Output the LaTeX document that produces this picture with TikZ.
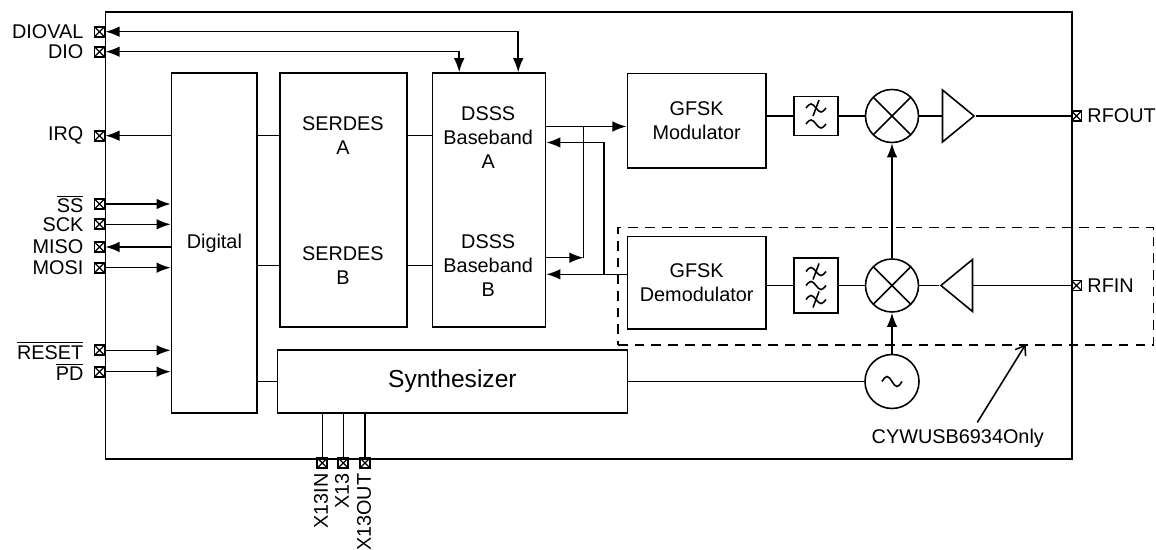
\documentclass[tikz,border=0pt]{standalone}
\usepackage{amsmath}
\usepackage{fontspec}
\setmainfont{Liberation Sans}
\usetikzlibrary{arrows.meta}
\usetikzlibrary{shapes}
\newlength{\px}
\setlength{\px}{0.02cm}

\begin{document}
\begin{tikzpicture}[x = 1\px, y = -1\px, line width = 0.9pt, font = \fontsize{11.3}{13.6}\selectfont]
\tikzstyle{BoxStyle}=[draw, rectangle, anchor = north west, inner sep = 0pt, align = center]
\tikzstyle{FilterStyle}=[draw, rectangle, minimum width = 44\px, inner sep = 0pt]
\tikzstyle{MixerStyle}=[draw, circle, minimum size = 53\px, inner sep = 0pt,
                        path picture = {\draw (path picture bounding box.north west) -- (path picture bounding box.south east)
                                              (path picture bounding box.north east) -- (path picture bounding box.south west);}]
\tikzstyle{AmpStyle}=[draw, isosceles triangle, isosceles triangle stretches,
                      minimum width = 52\px, minimum height = 31.6\px, inner sep = 0pt, anchor = lower side]
\tikzstyle{PinStyle}=[draw, rectangle, minimum size = 10\px, inner sep = 0pt, line width = 1.1pt,
                      path picture = {\draw[line width = 0.7pt] (path picture bounding box.north west) -- (path picture bounding box.south east)
                                              (path picture bounding box.north east) -- (path picture bounding box.south west);}]
\tikzstyle{ArrowStyle}=[-{Latex[length = 8pt, width = 6pt]}]
\tikzstyle{BothStyle}=[{Latex[length = 8pt, width = 6pt]}-{Latex[length = 8pt, width = 6pt]}]
\useasboundingbox (0, 0) rectangle (1156, 550);
\node[BoxStyle, minimum width = 966.5\px, minimum height = 447.3\px] (Chip) at (104.5, 11) {};
\node[BoxStyle, minimum width = 85.7\px, minimum height = 340\px] (Dig) at (170.7, 72.3) {Digital};
\node[BoxStyle, minimum width = 127\px, minimum height = 253.7\px] (Ser) at (279.4, 72.3) {};
\node[align = center] (SerA) at (342.9, 135.7) {SERDES\\A};
\node[align = center] (SerB) at (342.9, 265.7) {SERDES\\B};
\node[BoxStyle, minimum width = 113\px, minimum height = 253.7\px] (Dsss) at (431.7, 72.3) {};
\node[align = center] (DsA) at (488.2, 137.7) {DSSS\\Baseband\\A};
\node[align = center] (DsB) at (488.2, 265.7) {DSSS\\Baseband\\B};
\node[BoxStyle, minimum width = 138.8\px, minimum height = 94.6\px] (Mod) at (626.5, 72.7) {GFSK\\Modulator};
\node[BoxStyle, minimum width = 138.8\px, minimum height = 92.6\px] (Demod) at (626.5, 235.7) {GFSK\\Demodulator};
\node[BoxStyle, minimum width = 350.2\px, minimum height = 63.2\px, font = \fontsize{14}{16}\selectfont] (Syn) at (276.5, 349.2) {Synthesizer};
\node[BoxStyle, dash pattern = on 5.5pt off 4pt, minimum width = 535.4\px, minimum height = 117.6\px] (Opt) at (617.3, 226.7) {};
\node[FilterStyle, minimum height = 39.3\px] (Flt1) at (816, 116) {};
\node[FilterStyle, minimum height = 55\px] (Flt2) at (816, 285.5) {};
\node[MixerStyle] (Mix1) at (892, 116) {};
\node[MixerStyle] (Mix2) at (892, 285.5) {};
\node[draw, circle, minimum size = 54\px, inner sep = 0pt] (Osc) at (892, 381.5) {};
\node[AmpStyle] (Amp1) at (941.7, 116) {};
\node[AmpStyle, shape border rotate = 180] (Amp2) at (973.3, 285.5) {};
\draw (Flt1.center) ++(-10, -8) sin ++(5, -4) cos ++(5, 4) sin ++(5, 4) cos ++(5, -4);
\draw (Flt1.center) ++(-3, 0) -- ++(6, -16);
\draw (Flt1.center) ++(-10, 8) sin ++(5, -4) cos ++(5, 4) sin ++(5, 4) cos ++(5, -4);
\draw (Flt2.center) ++(-10, -14) sin ++(5, -4) cos ++(5, 4) sin ++(5, 4) cos ++(5, -4);
\draw (Flt2.center) ++(-3, -6) -- ++(6, -16);
\draw (Flt2.center) ++(-10, 0) sin ++(5, -4) cos ++(5, 4) sin ++(5, 4) cos ++(5, -4);
\draw (Flt2.center) ++(-10, 14) sin ++(5, -4) cos ++(5, 4) sin ++(5, 4) cos ++(5, -4);
\draw (Flt2.center) ++(-3, 22) -- ++(6, -16);
\draw (Osc.center) ++(-10, 0) sin ++(5, -5) cos ++(5, 5) sin ++(5, 5) cos ++(5, -5);
\node[PinStyle] (pDioval) at (99.5, 31.7) {};
\node[PinStyle] (pDio) at (99.5, 51.7) {};
\node[PinStyle] (pIrq) at (99.5, 135.7) {};
\node[PinStyle] (pSs) at (99.5, 204) {};
\node[PinStyle] (pSck) at (99.5, 224.3) {};
\node[PinStyle] (pMiso) at (99.5, 247) {};
\node[PinStyle] (pMosi) at (99.5, 267.7) {};
\node[PinStyle] (pReset) at (99.5, 350.3) {};
\node[PinStyle] (pPd) at (99.5, 371.7) {};
\node[PinStyle] (pRfout) at (1076.5, 116) {};
\node[PinStyle] (pRfin) at (1076.5, 285.5) {};
\node[PinStyle] (pXin) at (322.3, 463) {};
\node[PinStyle] (pX) at (343.3, 463) {};
\node[PinStyle] (pXout) at (365, 463) {};
\node[anchor = east] (tDioval) at (90, 31.7) {DIOVAL};
\node[anchor = east] (tDio) at (90, 51.7) {DIO};
\node[anchor = east] (tIrq) at (90, 135.7) {IRQ};
\node[anchor = east] (tSs) at (90, 204) {$\overline{\mbox{SS}}$};
\node[anchor = east] (tSck) at (90, 224.3) {SCK};
\node[anchor = east] (tMiso) at (90, 247) {MISO};
\node[anchor = east] (tMosi) at (90, 267.7) {MOSI};
\node[anchor = east] (tReset) at (90, 350.3) {$\overline{\mbox{RESET}}$};
\node[anchor = east] (tPd) at (90, 371.7) {$\overline{\mbox{PD}}$};
\node[anchor = west, inner sep = 1.5pt] (tRfout) at (1084, 116) {RFOUT};
\node[anchor = west, inner sep = 1.5pt] (tRfin) at (1084, 285.5) {RFIN};
\node[anchor = east, rotate = 90] (tXin) at (321, 467) {X13IN};
\node[anchor = east, rotate = 90] (tX) at (342, 467) {X13};
\node[anchor = east, rotate = 90] (tXout) at (364, 467) {X13OUT};
\node (tOnly) at (957.8, 438.3) {CYWUSB6934Only};
\coordinate (dioIn) at (459.2, 72.3);
\coordinate (diovalIn) at (518.2, 72.3);
\coordinate (jA) at (583.5, 126.5);
\coordinate (jB) at (583.5, 257.7);
\coordinate (kA) at (604, 142.5);
\coordinate (kB) at (604, 274.3);
\coordinate (onlyTip) at (1025.7, 344.3);
\draw[BothStyle] (pDioval.east) -| (diovalIn);
\draw[BothStyle] (pDio.east) -| (dioIn);
\draw[ArrowStyle] (Dig.west |- pIrq) -- (pIrq.east);
\draw[ArrowStyle] (pSs.east) -- (Dig.west |- pSs);
\draw[ArrowStyle] (pSck.east) -- (Dig.west |- pSck);
\draw[ArrowStyle] (Dig.west |- pMiso) -- (pMiso.east);
\draw[ArrowStyle] (pMosi.east) -- (Dig.west |- pMosi);
\draw[ArrowStyle] (pReset.east) -- (Dig.west |- pReset);
\draw[ArrowStyle] (pPd.east) -- (Dig.west |- pPd);
\draw (Dig.east |- SerA) -- (Ser.west |- SerA);
\draw (Dig.east |- SerB) -- (Ser.west |- SerB);
\draw (Ser.east |- SerA) -- (Dsss.west |- SerA);
\draw (Ser.east |- SerB) -- (Dsss.west |- SerB);
\draw (Dig.east |- Syn.west) -- (Syn.west);
\draw (Syn.east |- Osc) -- (Osc.west);
\draw[ArrowStyle] (Osc.north) -- (Mix2.south);
\draw[ArrowStyle] (Mix2.north) -- (Mix1.south);
\draw[ArrowStyle] (Dsss.east |- jA) -- (Mod.west |- jA);
\draw (jA) -- (jB);
\draw[ArrowStyle] (Dsss.east |- jB) -- (jB);
\draw[ArrowStyle] (Demod.west |- kB) -- (Dsss.east |- kB);
\draw[ArrowStyle] (kB) |- (Dsss.east |- kA);
\draw (Mod.east |- Flt1) -- (Flt1.west);
\draw (Flt1.east) -- (Mix1.west);
\draw (Mix1.east) -- (Amp1.lower side);
\draw (Amp1.apex) -- (pRfout.west);
\draw (pRfin.west) -- (Amp2.lower side);
\draw (Amp2.apex) -- (Mix2.east);
\draw (Mix2.west) -- (Flt2.east);
\draw (Flt2.west) -- (Demod.east |- Flt2);
\draw (Syn.south -| pXin) -- (pXin.north);
\draw (Syn.south -| pX) -- (pX.north);
\draw (Syn.south -| pXout) -- (pXout.north);
\draw[-{Straight Barb[length = 5pt, width = 7pt]}] ([xshift = 19.5\px]tOnly.north) -- (onlyTip);
\end{tikzpicture}
\end{document}
